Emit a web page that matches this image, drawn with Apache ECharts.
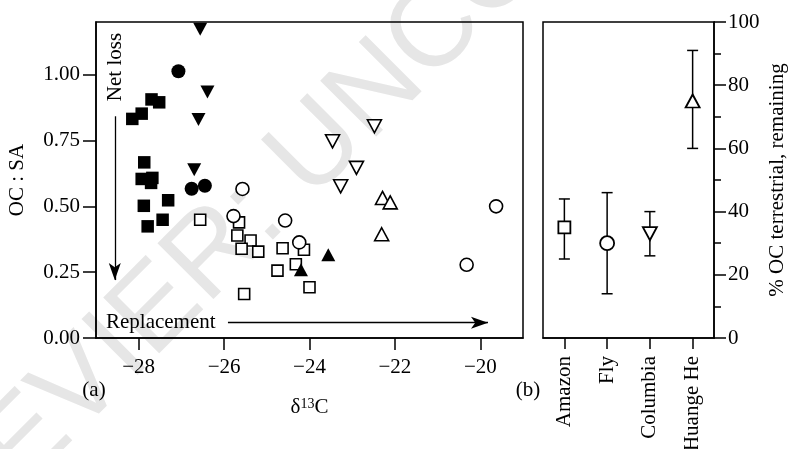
<!DOCTYPE html>
<html><head><meta charset="utf-8">
<script src="https://cdn.jsdelivr.net/npm/echarts@6/dist/echarts.min.js"></script>
<style>html,body{margin:0;padding:0;background:#fff}#c{width:792px;height:449px}</style>
</head><body><div id="c"></div>
<script>
// ---- data ----
const xTicks = [-28, -26, -24, -22, -20];
const yTicks = [0, 0.25, 0.5, 0.75, 1.0];
const amazonRiver = [[-28.15,0.832],[-27.93,0.852],[-27.70,0.906],[-27.52,0.895],[-27.87,0.667],[-27.93,0.604],[-27.68,0.608],[-27.71,0.589],[-27.88,0.502],[-27.31,0.523],[-27.44,0.449],[-27.79,0.424]];
const amazonShelf = [[-26.56,0.449],[-25.65,0.439],[-25.69,0.389],[-25.38,0.370],[-25.59,0.339],[-25.20,0.328],[-24.63,0.341],[-24.75,0.256],[-24.13,0.335],[-24.32,0.280],[-24.00,0.193],[-25.53,0.167]];
const flyRiver = [[-27.07,1.013],[-26.76,0.567],[-26.45,0.578]];
const flyShelf = [[-25.57,0.566],[-25.78,0.463],[-24.57,0.446],[-24.24,0.363],[-19.63,0.500],[-20.32,0.278]];
const columbiaRiver = [[-26.56,1.172],[-26.39,0.934],[-26.60,0.830],[-26.70,0.639]];
const columbiaShelf = [[-22.48,0.804],[-23.46,0.747],[-22.90,0.646],[-23.27,0.576]];
const huangheRiver = [[-24.20,0.259],[-23.56,0.316]];
const huangheShelf = [[-22.29,0.532],[-22.11,0.515],[-22.31,0.394]];
const rivers = ['Amazon', 'Fly', 'Columbia', 'Huange He'];
const pctMean = [35, 30, 33, 75];
const pctLow = [25, 14, 26, 60];
const pctHigh = [44, 46, 40, 91];
const netLossArrow = [[-28.56, 0.842], [-28.56, 0.22]];
const replacementArrow = [[-25.91, 0.058], [-19.82, 0.058]];

// ---- styles ----
const FONT = 'Liberation Serif';
const INK = '#000';
const FS = 21;
const txt = {fontFamily: FONT, fontSize: FS, color: INK};
const axLine = {show: true, lineStyle: {color: '#000', width: 1.5}};
const minus = v => (v < 0 ? '\u2212' : '') + Math.abs(v);

function filled(name, data, symbol, size, rot) {
  return {type: 'scatter', name, data, xAxisIndex: 0, yAxisIndex: 0, symbol, symbolSize: size,
    symbolRotate: rot || 0, itemStyle: {color: '#000', opacity: 1}, z: 5};
}
function open(name, data, symbol, size, rot) {
  return {type: 'scatter', name, data, xAxisIndex: 0, yAxisIndex: 0, symbol, symbolSize: size,
    symbolRotate: rot || 0, itemStyle: {color: '#fff', borderColor: '#000', borderWidth: 1.6, opacity: 1}, z: 4};
}

const rightSymbols = [
  {symbol: 'rect', symbolSize: 12, symbolRotate: 0},
  {symbol: 'circle', symbolSize: 14, symbolRotate: 0},
  {symbol: 'triangle', symbolSize: [14, 13], symbolRotate: 180},
  {symbol: 'triangle', symbolSize: [14, 13], symbolRotate: 0}
];

const chart = echarts.init(document.getElementById('c'), null, {renderer: 'canvas'});
const arrowLine = (pts) => [{coord: pts[0]}, {coord: pts[1]}];

chart.setOption({
  animation: false,
  backgroundColor: '#fff',
  grid: [
    {left: 96, top: 22, width: 427, height: 316, show: true, borderColor: '#000', borderWidth: 1.5,
     backgroundColor: 'transparent', containLabel: false, outerBoundsMode: 'none'},
    {left: 543, top: 22, width: 171, height: 316, show: true, borderColor: '#000', borderWidth: 1.5,
     backgroundColor: 'transparent', containLabel: false, outerBoundsMode: 'none'}
  ],
  xAxis: [
    {type: 'value', gridIndex: 0, min: -29, max: -19, axisLine: axLine,
     axisTick: {show: true, inside: false, length: 12, lineStyle: {color: '#000', width: 1.5}, customValues: xTicks},
     axisLabel: Object.assign({customValues: xTicks, formatter: minus, margin: 19}, txt),
     splitLine: {show: false},
     name: '{a|δ}{s|13}{a|C}', nameLocation: 'middle', nameGap: 59,
     nameTextStyle: {fontFamily: FONT, color: INK, fontSize: FS,
       rich: {a: {fontFamily: FONT, fontSize: FS, color: INK, verticalAlign: 'bottom'},
              s: {fontFamily: FONT, fontSize: 14, color: INK, verticalAlign: 'top'}}}},
    {type: 'category', gridIndex: 1, data: rivers, boundaryGap: true, axisLine: axLine,
     axisTick: {show: true, alignWithLabel: true, length: 11, lineStyle: {color: '#000', width: 1.5}},
     axisLabel: Object.assign({rotate: 90, interval: 0, margin: 18}, txt),
     splitLine: {show: false}}
  ],
  yAxis: [
    {type: 'value', gridIndex: 0, min: 0, max: 1.2, axisLine: axLine,
     axisTick: {show: true, inside: false, length: 13, lineStyle: {color: '#000', width: 1.5}, customValues: yTicks},
     axisLabel: Object.assign({customValues: yTicks, formatter: v => v.toFixed(2), margin: 16}, txt),
     splitLine: {show: false},
     name: 'OC : SA', nameLocation: 'middle', nameRotate: 90, nameGap: 68, nameTextStyle: txt},
    {type: 'value', gridIndex: 1, position: 'right', min: 0, max: 100, interval: 20, axisLine: axLine,
     axisTick: {show: true, inside: false, length: 12, lineStyle: {color: '#000', width: 1.5}},
     minorTick: {show: true, splitNumber: 2, length: 7, lineStyle: {color: '#000', width: 1.5}},
     axisLabel: Object.assign({margin: 14}, txt),
     splitLine: {show: false}, minorSplitLine: {show: false},
     name: '% OC terrestrial, remaining', nameLocation: 'middle', nameRotate: 90, nameGap: 53, nameTextStyle: txt}
  ],
  series: [
    Object.assign(filled('Amazon river', amazonRiver, 'rect', 12.5), {
      markLine: {silent: true, symbol: ['none', 'arrow'], symbolSize: [9, 17], precision: 4,
        label: {show: false}, lineStyle: {color: '#000', width: 1.3, type: 'solid'},
        emphasis: {disabled: true},
        data: [arrowLine(netLossArrow), arrowLine(replacementArrow)]}
    }),
    open('Amazon shelf', amazonShelf, 'rect', 11),
    filled('Fly river', flyRiver, 'circle', 14),
    open('Fly shelf', flyShelf, 'circle', 13),
    filled('Columbia river', columbiaRiver, 'triangle', [14, 13], 180),
    open('Columbia shelf', columbiaShelf, 'triangle', [14, 13], 180),
    filled('Huange He river', huangheRiver, 'triangle', [14, 13], 0),
    open('Huange He shelf', huangheShelf, 'triangle', [14, 13], 0),
    {type: 'custom', xAxisIndex: 1, yAxisIndex: 1, z: 3,
     data: rivers.map((r, i) => [i, pctLow[i], pctHigh[i]]),
     encode: {x: 0, y: [1, 2]},
     renderItem: function (params, api) {
       const x = api.value(0);
       const lo = api.coord([x, api.value(1)]);
       const hi = api.coord([x, api.value(2)]);
       const w = 5.5;
       const st = {stroke: '#000', lineWidth: 1.5};
       return {type: 'group', children: [
         {type: 'line', shape: {x1: lo[0], y1: lo[1], x2: hi[0], y2: hi[1]}, style: st},
         {type: 'line', shape: {x1: lo[0] - w, y1: lo[1], x2: lo[0] + w, y2: lo[1]}, style: st},
         {type: 'line', shape: {x1: hi[0] - w, y1: hi[1], x2: hi[0] + w, y2: hi[1]}, style: st}
       ]};
     }},
    {type: 'scatter', xAxisIndex: 1, yAxisIndex: 1, z: 6,
     itemStyle: {color: '#fff', borderColor: '#000', borderWidth: 1.8, opacity: 1},
     data: rivers.map((r, i) => Object.assign({value: [r, pctMean[i]]}, rightSymbols[i]))}
  ],
  graphic: [
    {type: 'text', x: -114, y: 663, rotation: Math.PI / 4, z: -10, silent: true,
     style: {text: 'ELSEVIER: UNCORRECTED PROOF', fontFamily: 'Liberation Sans', fontSize: 115,
       fill: '#e6e6e6', align: 'left', verticalAlign: 'bottom'}},
    {type: 'text', x: 115, y: 67, rotation: Math.PI / 2, z: 100,
     style: {text: 'Net loss', fontFamily: FONT, fontSize: FS, fill: INK, align: 'center', verticalAlign: 'middle'}},
    {type: 'text', x: 106, y: 322, z: 100,
     style: {text: 'Replacement', fontFamily: FONT, fontSize: FS, fill: INK, align: 'left', verticalAlign: 'middle'}},
    {type: 'text', x: 94, y: 390, z: 100,
     style: {text: '(a)', fontFamily: FONT, fontSize: FS, fill: INK, align: 'center', verticalAlign: 'middle'}},
    {type: 'text', x: 528, y: 390, z: 100,
     style: {text: '(b)', fontFamily: FONT, fontSize: FS, fill: INK, align: 'center', verticalAlign: 'middle'}}
  ]
});
</script>
</body></html>
